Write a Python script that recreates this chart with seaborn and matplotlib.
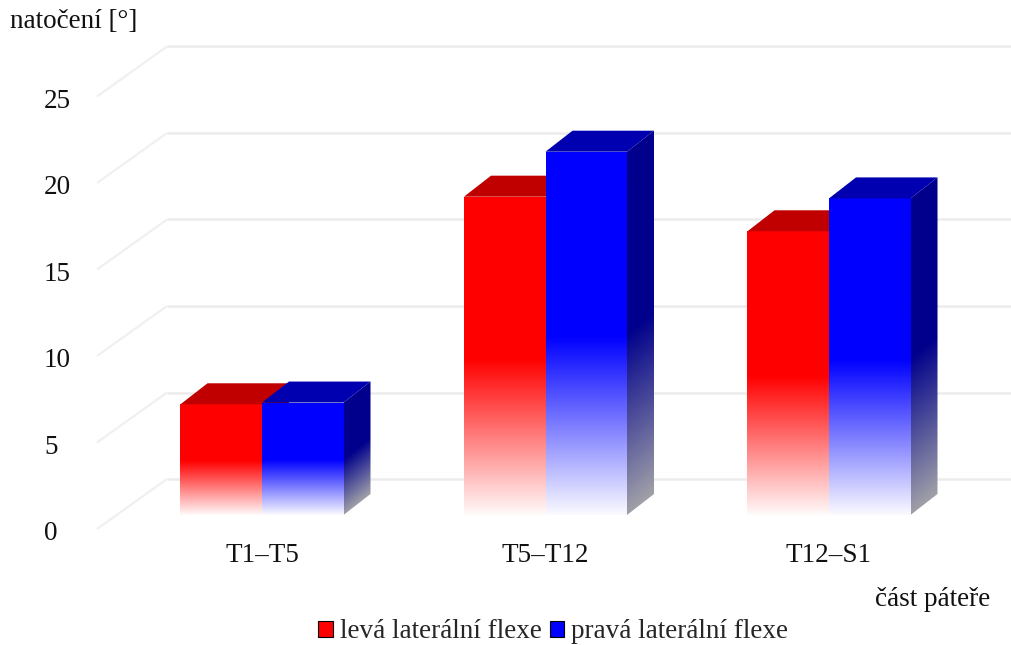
import numpy as np
import pandas as pd
import matplotlib
matplotlib.use("Agg")
import matplotlib.pyplot as plt
import matplotlib.colors as mcolors
import seaborn as sns
from matplotlib.patches import Polygon, Patch

# --- data -------------------------------------------------------------
categories = ["T1–T5", "T5–T12", "T12–S1"]
leva = [6.4, 18.4, 16.4]
prava = [6.5, 21.0, 18.3]
series = ["levá laterální flexe", "pravá laterální flexe"]
y_ticks = [0, 5, 10, 15, 20, 25]
y_label = "natočení [°]"
x_label = "část páteře"

# --- styling ----------------------------------------------------------
front_colors = {series[0]: "#ff0000", series[1]: "#0000ff"}
top_colors = {series[0]: "#c00000", series[1]: "#0000b0"}
side_colors = {series[0]: "#900000", series[1]: "#00008c"}
side_bottom = "#a0a0a8"
grid_color = "#ececec"
FS = 19.5

df = pd.DataFrame({
    "part": categories * 2,
    "value": leva + prava,
    "side": [series[0]] * len(categories) + [series[1]] * len(categories),
})

sns.set_theme(style="white")
plt.rcParams["font.family"] = ["Liberation Serif", "DejaVu Serif"]

W, H = 1011, 645
fig = plt.figure(figsize=(W / 100, H / 100), dpi=100)
ax = fig.add_axes([0, 0, 1, 1])

sns.barplot(data=df, x="part", y="value", hue="side", palette=front_colors,
            saturation=1, width=0.575, errorbar=None, legend=False, ax=ax)

# pixel layout of the oblique projection
CX0, CSTEP = 262.0, 283.5      # first category centre / spacing (px)
Y0, YSCALE = 515.0, 17.3       # bar baseline (px from top) / px per unit
x0, x1 = -CX0 / CSTEP, (W - CX0) / CSTEP
y0, y1 = -(H - Y0) / YSCALE, Y0 / YSCALE
ax.set_xlim(x0, x1)
ax.set_ylim(y0, y1)
ax.axis("off")
sx = (x1 - x0) / W
sy = (y1 - y0) / H


def px_x(px):
    return x0 + px * sx


# bar depth in data units
ddx, ddy = 27 * sx, 21 * sy

# back wall grid with the oblique floor edges
for v in y_ticks:
    yb = v + 36 * sy
    yf = v - 14 * sy
    ax.plot([px_x(97), px_x(167)], [yf, yb], color="#f0f0f0",
            lw=1.6, zorder=0, solid_capstyle="butt")
    ax.plot([px_x(167), px_x(W)], [yb, yb], color=grid_color,
            lw=1.8, zorder=0, solid_capstyle="butt")
    ax.text(px_x(44), v - 19 * sy, f"{v}", ha="left", va="center",
            fontsize=FS, color="#111111")

for i, c in enumerate(categories):
    ax.text(i, -41 * sy, c, ha="center", va="center", fontsize=FS,
            color="#111111")


def rgb(c):
    return np.array(mcolors.to_rgb(c))


white = np.ones(3)

for patch in list(ax.patches):
    fc = np.array(patch.get_facecolor()[:3])
    key = series[0] if fc[0] > fc[2] else series[1]
    base = 2 if key == series[0] else 10
    x, w, h = patch.get_x(), patch.get_width(), patch.get_height()
    patch.set_facecolor("none")
    patch.set_edgecolor("none")
    patch.set_zorder(base)

    # front face: solid upper half, fading to white at the base
    n = 256
    f = np.linspace(0, 1, n)
    m = np.clip(0.02 + f / 0.5, 0, 1)[:, None]
    img = white * (1 - m) + rgb(front_colors[key]) * m
    im = ax.imshow(img[:, None, :], extent=(x, x + w, 0, h), origin="lower",
                   aspect="auto", interpolation="bilinear", zorder=base + 1)
    im.set_clip_path(patch)

    # top face
    top = Polygon([(x, h), (x + w, h), (x + w + ddx, h + ddy), (x + ddx, h + ddy)],
                  closed=True, facecolor=top_colors[key], edgecolor="none",
                  zorder=base + 2)
    ax.add_patch(top)

    # side face: dark upper half, fading to grey at the base
    side = Polygon([(x + w, 0), (x + w + ddx, ddy), (x + w + ddx, h + ddy), (x + w, h)],
                   closed=True, facecolor="none", edgecolor="none", zorder=base + 2)
    ax.add_patch(side)
    ny, nx = 256, 24
    u = np.linspace(0, 1, nx)[None, :]
    yy = np.linspace(0, h + ddy, ny)[:, None]
    fl = (yy - ddy * u) / h
    ms = np.clip(fl / 0.5, 0, 1)[..., None]
    simg = rgb(side_bottom) * (1 - ms) + rgb(side_colors[key]) * ms
    sim = ax.imshow(simg, extent=(x + w, x + w + ddx, 0, h + ddy), origin="lower",
                    aspect="auto", interpolation="bilinear", zorder=base + 2)
    sim.set_clip_path(side)

ax.set_xlim(x0, x1)
ax.set_ylim(y0, y1)

# axis titles
fig.text(10 / W, 1 - 22 / H, y_label, ha="left", va="center", fontsize=FS,
         color="#111111")
fig.text(990 / W, 1 - 599 / H, x_label, ha="right", va="center", fontsize=FS,
         color="#111111")

handles = [Patch(facecolor=front_colors[s], edgecolor="black", linewidth=0.8, label=s)
           for s in series]
fig.legend(handles=handles, loc="center", bbox_to_anchor=(553 / W, 1 - 632 / H),
           ncol=2, frameon=False, handlelength=0.55, handleheight=0.55,
           handletextpad=0.25, columnspacing=0.3, fontsize=FS, borderpad=0,
           borderaxespad=0)

fig.savefig("out.png", dpi=100)
